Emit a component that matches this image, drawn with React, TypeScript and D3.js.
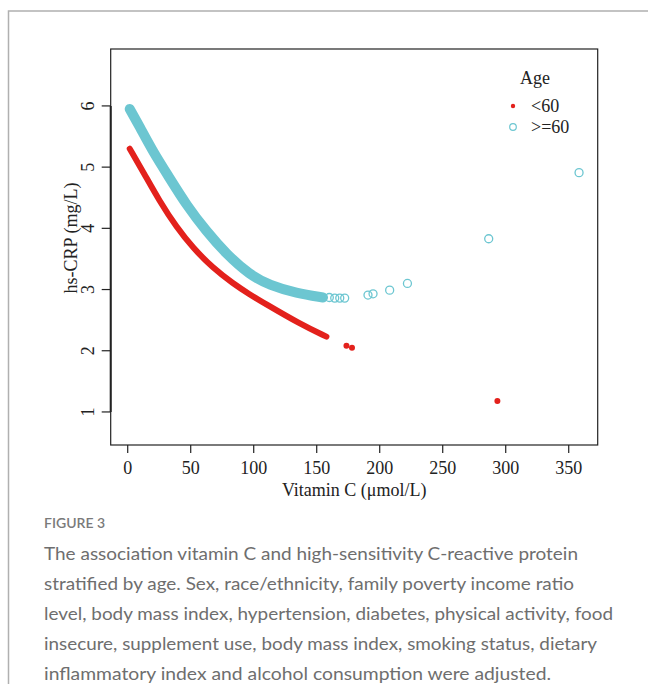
import React from "react";
import * as d3 from "d3";

// ---- data ----
const xTicks = [0, 50, 100, 150, 200, 250, 300, 350];
const yTicks = [1, 2, 3, 4, 5, 6];

// Age >= 60 : dense fitted band, then isolated points
const vitcOldCurve = [1.6, 9.5, 20.1, 33.3, 46.6, 62.5, 78.3, 96.8, 112.7, 133.9, 155];
const crpOldCurve = [5.95, 5.66, 5.25, 4.82, 4.38, 3.95, 3.58, 3.24, 3.07, 2.94, 2.87];
const vitcOldPts = [160, 164.3, 168.3, 172.2, 190.7, 194.7, 207.9, 222, 286.5, 358.2];
const crpOldPts = [2.87, 2.86, 2.86, 2.86, 2.91, 2.93, 2.99, 3.1, 3.83, 4.91];

// Age < 60
const vitcYoungCurve = [1.6, 12.1, 25.4, 38.7, 51.8, 67.7, 83.6, 96.8, 107.4, 136.5, 157.7];
const crpYoungCurve = [5.3, 4.93, 4.44, 4.02, 3.68, 3.35, 3.1, 2.92, 2.79, 2.44, 2.23];
const vitcYoungPts = [173.6, 178, 293.4];
const crpYoungPts = [2.08, 2.05, 1.18];

const legendLabels = ["<60", ">=60"];
const captionTitle = "FIGURE 3";
const captionLines = [
  "The association vitamin C and high-sensitivity C-reactive protein",
  "stratified by age. Sex, race/ethnicity, family poverty income ratio",
  "level, body mass index, hypertension, diabetes, physical activity, food",
  "insecure, supplement use, body mass index, smoking status, dietary",
  "inflammatory index and alcohol consumption were adjusted.",
];
const captionWidths = [534, 530, 569, 553, 507];

const RED = "#e3211c";
const CYAN = "#6cc6d1";
const SERIF = "'Liberation Serif', 'Times New Roman', serif";
const SANS = "Lato, 'Open Sans', sans-serif";
const FS = 18;

export default function App() {
  const W = 648;
  const H = 684;
  const left = 110.7;
  const right = 597.7;
  const top = 49;
  const bottom = 445;
  const x = d3.scaleLinear().domain([-13.5, 373]).range([left, right]);
  const y = d3.scaleLinear().domain([0.46, 6.93]).range([bottom, top]);
  const line = d3
    .line<[number, number]>()
    .x((d) => x(d[0]))
    .y((d) => y(d[1]))
    .curve(d3.curveBasis);

  const oldCurve = vitcOldCurve.map((v, i) => [v, crpOldCurve[i]] as [number, number]);
  const youngCurve = vitcYoungCurve.map((v, i) => [v, crpYoungCurve[i]] as [number, number]);

  return (
    <svg
      width={W}
      height={H}
      style={{ position: "absolute", left: 0, top: 0, background: "#fff" }}
    >
      <rect x={0} y={0} width={W} height={H} fill="#fff" />
      {/* card border */}
      <path d={`M8.5,${H} V11 H${W}`} fill="none" stroke="#b0b0b0" strokeWidth={1.5} />

      {/* plot box */}
      <rect x={left} y={top} width={right - left} height={bottom - top} fill="none" stroke="#222" strokeWidth={1.2} />

      {/* y axis */}
      <line x1={left} x2={left} y1={y(1)} y2={y(6)} stroke="#222" strokeWidth={2} />
      {yTicks.map((t) => (
        <g key={"y" + t}>
          <line x1={left - 9} x2={left} y1={y(t)} y2={y(t)} stroke="#222" strokeWidth={1.2} />
          <text
            transform={`translate(${left - 23},${y(t)}) rotate(-90)`}
            textAnchor="middle"
            dominantBaseline="central"
            fontFamily={SERIF}
            fontSize={FS}
            fill="#222"
          >
            {t}
          </text>
        </g>
      ))}
      <text
        transform={`translate(71,238) rotate(-90)`}
        textAnchor="middle"
        dominantBaseline="central"
        fontFamily={SERIF}
        fontSize={FS}
        fill="#222"
      >
        hs-CRP (mg/L)
      </text>

      {/* x axis */}
      {xTicks.map((t) => (
        <g key={"x" + t}>
          <line x1={x(t)} x2={x(t)} y1={bottom} y2={bottom + 8} stroke="#222" strokeWidth={1.2} />
          <text
            x={x(t)}
            y={bottom + 23}
            textAnchor="middle"
            dominantBaseline="central"
            fontFamily={SERIF}
            fontSize={FS}
            fill="#222"
          >
            {t}
          </text>
        </g>
      ))}
      <text
        x={(left + right) / 2}
        y={490}
        textAnchor="middle"
        dominantBaseline="central"
        fontFamily={SERIF}
        fontSize={FS}
        fill="#222"
      >
        Vitamin C (μmol/L)
      </text>

      {/* data: >=60 */}
      <path d={line(oldCurve) || ""} fill="none" stroke={CYAN} strokeWidth={10} strokeLinecap="round" />
      {vitcOldPts.map((v, i) => (
        <circle key={"o" + i} cx={x(v)} cy={y(crpOldPts[i])} r={4} fill="none" stroke={CYAN} strokeWidth={1.3} />
      ))}

      {/* data: <60 */}
      <path d={line(youngCurve) || ""} fill="none" stroke={RED} strokeWidth={6} strokeLinecap="round" />
      {vitcYoungPts.map((v, i) => (
        <circle key={"r" + i} cx={x(v)} cy={y(crpYoungPts[i])} r={3} fill={RED} />
      ))}

      {/* legend */}
      <text x={535} y={78} textAnchor="middle" dominantBaseline="central" fontFamily={SERIF} fontSize={FS} fill="#222">
        Age
      </text>
      <circle cx={513} cy={106} r={2.2} fill={RED} />
      <circle cx={513} cy={127} r={3.3} fill="none" stroke={CYAN} strokeWidth={1.2} />
      {legendLabels.map((l, i) => (
        <text
          key={l}
          x={531}
          y={106 + i * 21}
          dominantBaseline="central"
          fontFamily={SERIF}
          fontSize={FS}
          fill="#222"
        >
          {l}
        </text>
      ))}

      {/* caption */}
      <text x={44} y={522} dominantBaseline="central" fontFamily={SANS} fontSize={14} fontWeight={600} fill="#7a7a7a">
        {captionTitle}
      </text>
      {captionLines.map((l, i) => (
        <text
          key={i}
          x={44}
          y={553 + i * 30}
          dominantBaseline="central"
          fontFamily={SANS}
          fontSize={18}
          fill="#6e6e6e"
          textLength={captionWidths[i]}
          lengthAdjust="spacingAndGlyphs"
        >
          {l}
        </text>
      ))}
    </svg>
  );
}
